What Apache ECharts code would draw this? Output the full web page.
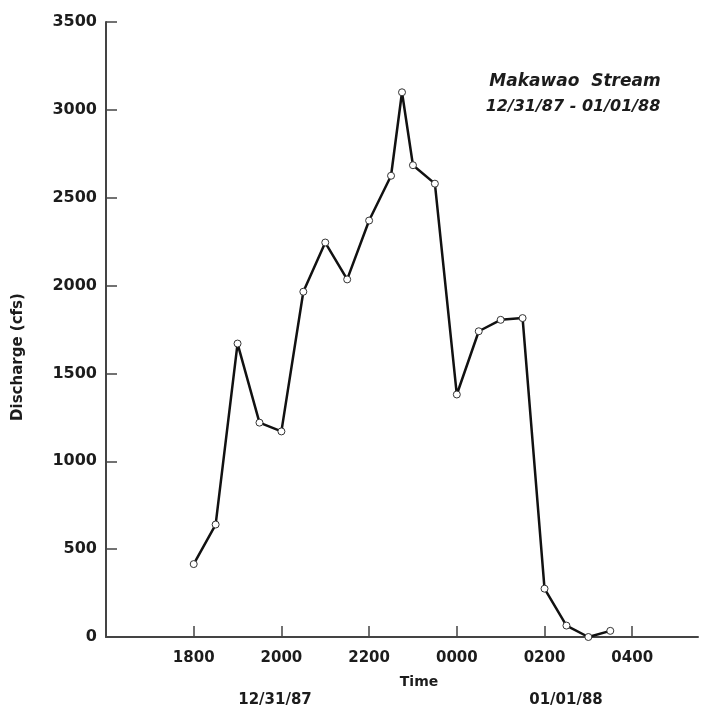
<!DOCTYPE html>
<html>
<head>
<meta charset="utf-8">
<title>Makawao Stream discharge</title>
<script src="https://cdn.jsdelivr.net/npm/echarts@6/dist/echarts.min.js"></script>
<style>
  html, body { margin: 0; padding: 0; background: #fff; }
  #chart { width: 702px; height: 709px; }
</style>
</head>
<body>
<div id="chart"></div>
<script>
// hours counted on from midnight of 12/31/87 (24 = 0000 on 01/01/88)
const timeHours = [18, 18.5, 19, 19.5, 20, 20.5, 21, 21.5, 22, 22.5, 22.75, 23, 23.5, 24, 24.5, 25, 25.5, 26, 26.5, 27, 27.5];
const discharge = [415, 640, 1670, 1220, 1170, 1965, 2245, 2035, 2370, 2625, 3100, 2685, 2580, 1380, 1740, 1805, 1815, 275, 65, 0, 35];
const xTickValues = [18, 20, 22, 24, 26, 28];
const xTickLabels = ["1800", "2000", "2200", "0000", "0200", "0400"];
const yTickValues = [0, 500, 1000, 1500, 2000, 2500, 3000, 3500];

const font = "DejaVu Sans";
const ink = "#1c1c1c";
const axisColor = "#444";

let chart = echarts.init(document.getElementById("chart"));

let option = {
  animation: false,
  backgroundColor: "#fff",
  grid: { left: 106, right: 4, top: 22, bottom: 72 },
  xAxis: {
    type: "value",
    min: 16,
    max: 29.5,
    splitLine: { show: false },
    axisLine: { lineStyle: { color: axisColor, width: 2 } },
    axisTick: {
      inside: true,
      length: 11,
      customValues: xTickValues,
      lineStyle: { color: axisColor, width: 1.5 }
    },
    axisLabel: {
      customValues: xTickValues,
      margin: 14,
      color: ink,
      fontFamily: font,
      fontWeight: "bold",
      fontSize: 15,
      formatter: function (v) {
        return xTickLabels[xTickValues.indexOf(v)];
      }
    }
  },
  yAxis: {
    type: "value",
    min: 0,
    max: 3500,
    interval: 500,
    splitLine: { show: false },
    axisLine: { show: true, lineStyle: { color: axisColor, width: 2 } },
    axisTick: {
      show: true,
      inside: true,
      length: 11,
      customValues: yTickValues,
      lineStyle: { color: axisColor, width: 1.5 }
    },
    axisLabel: {
      margin: 9,
      color: ink,
      fontFamily: font,
      fontWeight: "bold",
      fontSize: 16,
      formatter: function (v) {
        return String(v);
      }
    }
  },
  series: [
    {
      type: "line",
      data: timeHours.map((t, i) => [t, discharge[i]]),
      symbol: "circle",
      symbolSize: 7,
      showAllSymbol: true,
      clip: false,
      lineStyle: { color: "#111", width: 2.5 },
      itemStyle: { color: "#fff", borderColor: "#333", borderWidth: 1 },
      z: 3
    }
  ],
  graphic: [
    {
      type: "text",
      x: 18,
      y: 357,
      rotation: Math.PI / 2,
      style: {
        text: "Discharge (cfs)",
        fill: ink,
        font: "bold 15px " + font,
        align: "center",
        verticalAlign: "middle"
      }
    },
    {
      type: "text",
      x: 419,
      y: 682,
      style: { text: "Time", fill: ink, font: "bold 14px " + font, align: "center", verticalAlign: "middle" }
    },
    {
      type: "text",
      x: 275,
      y: 700,
      style: { text: "12/31/87", fill: ink, font: "bold 15px " + font, align: "center", verticalAlign: "middle" }
    },
    {
      type: "text",
      x: 566,
      y: 700,
      style: { text: "01/01/88", fill: ink, font: "bold 15px " + font, align: "center", verticalAlign: "middle" }
    },
    {
      type: "text",
      x: 575,
      y: 82,
      style: { text: "Makawao  Stream", fill: ink, font: "italic bold 17px " + font, align: "center", verticalAlign: "middle" }
    },
    {
      type: "text",
      x: 573,
      y: 107,
      style: { text: "12/31/87 - 01/01/88", fill: ink, font: "italic bold 16px " + font, align: "center", verticalAlign: "middle" }
    }
  ]
};

chart.setOption(option);
window.addEventListener("resize", function () {
  chart.resize();
});
</script>
</body>
</html>
